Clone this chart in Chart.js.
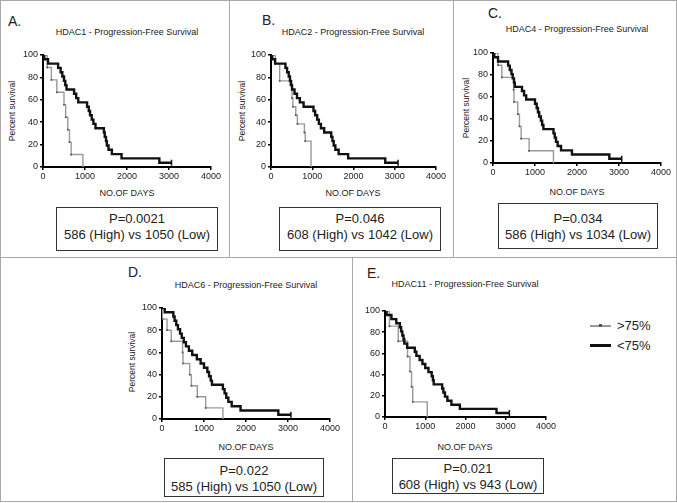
<!DOCTYPE html>
<html>
<head>
<meta charset="utf-8">
<script src="https://cdn.jsdelivr.net/npm/chart.js@4.4.0/dist/chart.umd.min.js"></script>
<style>
body{margin:0;background:#fff;font-family:Arial,"Liberation Sans",sans-serif;color:#222}
#fig{position:relative;width:677px;height:503px;overflow:hidden;background:#fff}
.line{position:absolute;background:#a8a8a8}
.lbl{position:absolute;font-size:14px;line-height:14px;color:#222}
.ttl{position:absolute;font-size:9px;white-space:nowrap;transform:translate(-50%,-50%);color:#222}
.ytl{position:absolute;font-size:8.5px;white-space:nowrap;transform:translate(-50%,-50%) rotate(-90deg);color:#222}
.box{position:absolute;border:1px solid #333;box-sizing:border-box;text-align:center;font-size:13px;line-height:16px;white-space:nowrap;color:#222}
.leg{position:absolute;font-size:13px;line-height:14px;color:#222}
canvas{position:absolute}
</style>
</head>
<body>
<div id="fig">
<div class="line" style="left:0;top:0;width:677px;height:1px"></div>
<div class="line" style="left:0;top:501px;width:677px;height:1px"></div>
<div class="line" style="left:0;top:0;width:1px;height:502px"></div>
<div class="line" style="left:676px;top:0;width:1px;height:502px"></div>
<div class="line" style="left:0;top:257px;width:677px;height:1px"></div>
<div class="line" style="left:229px;top:0;width:1px;height:257px"></div>
<div class="line" style="left:453px;top:0;width:1px;height:257px"></div>
<div class="line" style="left:352px;top:257px;width:1px;height:245px"></div>

<div class="lbl" style="left:8px;top:14px">A.</div>
<div class="lbl" style="left:262px;top:13px">B.</div>
<div class="lbl" style="left:488px;top:6px">C.</div>
<div class="lbl" style="left:128px;top:265px">D.</div>
<div class="lbl" style="left:367px;top:266px">E.</div>

<div class="ttl" style="left:127px;top:32px">HDAC1 - Progression-Free Survival</div>
<div class="ttl" style="left:353px;top:32px">HDAC2 - Progression-Free Survival</div>
<div class="ttl" style="left:577px;top:29px">HDAC4 - Progression-Free Survival</div>
<div class="ttl" style="left:246px;top:285px">HDAC6 - Progression-Free Survival</div>
<div class="ttl" style="left:465px;top:284px">HDAC11 - Progression-Free Survival</div>

<div class="ytl" style="left:12px;top:111px">Percent survival</div>
<div class="ytl" style="left:242px;top:111px">Percent survival</div>
<div class="ytl" style="left:466px;top:108px">Percent survival</div>
<div class="ytl" style="left:132px;top:362px">Percent survival</div>

<div class="ttl" style="left:127px;top:193px">NO.OF DAYS</div>
<div class="ttl" style="left:353px;top:193px">NO.OF DAYS</div>
<div class="ttl" style="left:577px;top:192px">NO.OF DAYS</div>
<div class="ttl" style="left:246px;top:447px">NO.OF DAYS</div>
<div class="ttl" style="left:465px;top:447px">NO.OF DAYS</div>

<div class="box" style="left:56px;top:207px;width:162px;height:44px;padding-top:3px">P=0.0021<br>586 (High) vs 1050 (Low)</div>
<div class="box" style="left:279px;top:207px;width:162px;height:44px;padding-top:3px">P=0.046<br>608 (High) vs 1042 (Low)</div>
<div class="box" style="left:498px;top:203px;width:160px;height:46px;padding-top:7px">P=0.034<br>586 (High) vs 1034 (Low)</div>
<div class="box" style="left:164px;top:458px;width:160px;height:39px;padding-top:4px">P=0.022<br>585 (High) vs 1050 (Low)</div>
<div class="box" style="left:392px;top:458px;width:152px;height:36px;padding-top:2px">P=0.021<br>608 (High) vs 943 (Low)</div>

<div class="line" style="left:590px;top:325px;width:21px;height:2px;background:#999"></div>
<div class="line" style="left:599px;top:324px;width:3px;height:3px;background:#555"></div>
<div class="leg" style="left:617px;top:319px">&gt;75%</div>
<div class="line" style="left:590px;top:344px;width:21px;height:3px;background:#111"></div>
<div class="leg" style="left:617px;top:339px">&lt;75%</div>
</div>

<script>
const ticksX=[0,1000,2000,3000,4000]
const ticksY=[0,20,40,60,80,100]

// <75% (low) curves share the same survival steps
const lowSurv=[100,96.2,92.3,88.5,84.6,80.8,76.9,73.1,69.2,65.4,61.5,57.7,53.8,50,46.2,42.3,38.5,34.6,30.8,26.9,23.1,19.2,15.4,11.5,7.7,3.8,3.8]

const daysA_low=[0,30,120,360,420,460,500,530,560,740,790,840,1050,1090,1120,1160,1200,1250,1450,1470,1500,1520,1560,1640,1870,2770,3060]
const daysA_high=[0,100,200,330,500,540,590,630,670,950]
const survA_high=[100,88.9,77.8,66.7,55.6,44.4,33.3,22.2,11.1,0]

const daysB_low=[0,30,100,350,390,430,460,480,510,570,630,700,790,1030,1070,1120,1160,1210,1290,1460,1490,1520,1560,1640,1870,2770,3080]
const daysB_high=[0,105,210,510,530,600,640,810,830,970]
const survB_high=[100,92.3,76.9,61.5,53.8,46.2,38.5,30.8,23.1,0]

const daysC_low=[0,30,120,360,400,440,470,500,520,690,740,790,1000,1040,1070,1100,1140,1170,1200,1440,1470,1500,1540,1620,1880,2770,3065]
const daysC_high=[0,120,210,490,500,590,630,670,860,1440]
const survC_high=[100,88.9,77.8,66.7,55.6,44.4,33.3,22.2,11.1,0]

const daysD_low=[0,65,270,300,340,380,430,470,520,570,640,720,830,920,1000,1080,1120,1160,1190,1450,1490,1530,1580,1660,1870,2770,3070]
const daysD_high=[0,10,120,220,490,500,660,700,840,1040,1450]
const survD_high=[100,90,80,70,60,50,40,30,20,10,0]

const daysE_low=[0,40,160,280,370,400,430,460,480,550,740,780,860,930,1000,1080,1160,1190,1210,1420,1450,1490,1550,1650,1860,2770,3090]
const daysE_high=[0,110,330,560,620,660,690,1050]
const survE_high=[100,85.7,71.4,57.1,42.9,28.6,14.3,0]

const fig=document.getElementById("fig")

function km(area,lowX,lowY,highX,highY){

const yW=30,padT=8,padR=14,xH=16
const c=document.createElement("canvas")
const w=(area[2]-area[0])+yW+padR
const h=(area[3]-area[1])+padT+xH
c.width=w
c.height=h
c.style.left=(area[0]-yW)+"px"
c.style.top=(area[1]-padT)+"px"
c.style.width=w+"px"
c.style.height=h+"px"
fig.appendChild(c)

const pts=(xs,ys)=>xs.map((d,i)=>({x:d,y:ys[i]}))
const tickFont={family:"Arial, 'Liberation Sans', sans-serif",size:9}

new Chart(c,{
type:"line",
data:{
datasets:[
{
label:"<75%",
data:pts(lowX,lowY),
stepped:true,
borderColor:"#111",
borderWidth:2.4,
pointStyle:"line",
rotation:90,
pointRadius:lowX.map((d,i)=>i==lowX.length-1?3:0),
pointBorderColor:"#111",
pointBorderWidth:1.5
},
{
label:">75%",
data:pts(highX,highY),
stepped:true,
borderColor:"#9a9a9a",
borderWidth:1.4,
pointStyle:"rect",
pointRadius:highX.map((d,i)=>i==0||i==highX.length-1?0:1.2),
pointBackgroundColor:"#555",
pointBorderWidth:0
}
]
},
options:{
responsive:false,
animation:false,
layout:{padding:{top:padT,right:padR,left:0,bottom:0}},
plugins:{legend:{display:false},tooltip:{enabled:false}},
scales:{
x:{
type:"linear",
min:0,max:4000,
afterBuildTicks:s=>{s.ticks=ticksX.map(v=>({value:v}))},
afterFit:s=>{s.height=xH},
ticks:{font:tickFont,color:"#222",padding:1,maxRotation:0,callback:v=>String(v)},
grid:{drawOnChartArea:false,tickLength:3,color:"#000",lineWidth:1.5},
border:{color:"#000",width:2}
},
y:{
min:0,max:100,
afterBuildTicks:s=>{s.ticks=ticksY.map(v=>({value:v}))},
afterFit:s=>{s.width=yW},
ticks:{font:tickFont,color:"#222",padding:2,callback:v=>String(v)},
grid:{drawOnChartArea:false,tickLength:3,color:"#000",lineWidth:1.5},
border:{color:"#000",width:2}
}
}
}
})

}

km([43,55,211,167],daysA_low,lowSurv,daysA_high,survA_high)
km([271,55,436,167],daysB_low,lowSurv,daysB_high,survB_high)
km([493,53,661,163],daysC_low,lowSurv,daysC_high,survC_high)
km([162,308,330,419],daysD_low,lowSurv,daysD_high,survD_high)
km([385,311,546,417],daysE_low,lowSurv,daysE_high,survE_high)
</script>
</body>
</html>
